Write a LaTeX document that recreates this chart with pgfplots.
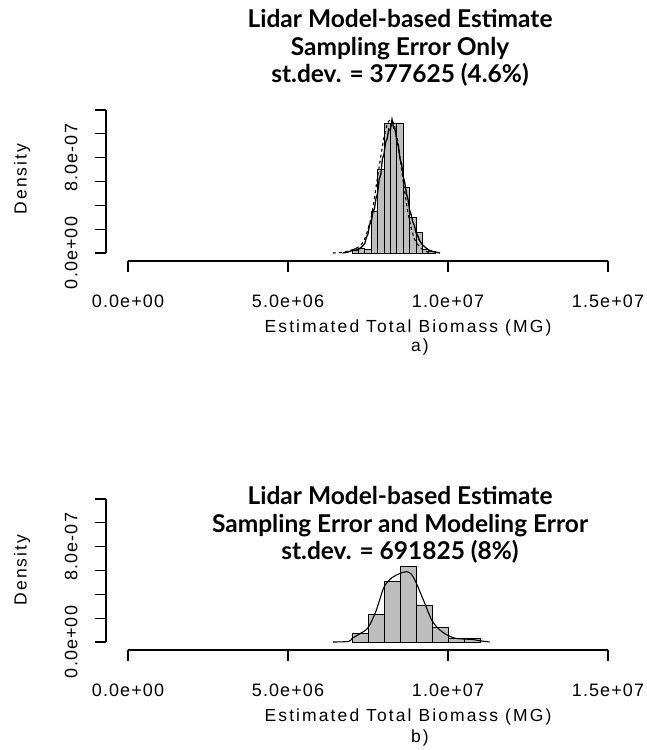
\documentclass[border=0pt]{standalone}
\usepackage{fontspec}
\setmainfont{Liberation Sans}
\newfontfamily\titlefont{Lato}
\newfontfamily\labfont[LetterSpace=12]{Liberation Sans}
\newfontfamily\tickfont[LetterSpace=6]{Liberation Sans}
\usepackage{pgfplots}
\pgfplotsset{compat=1.18}
\definecolor{bargray}{RGB}{190,190,190}
\pgfplotsset{rstyle/.style={
  scale only axis, width=480pt, height=143pt,
  xmin=0, xmax=15, ymin=0, ymax=12,
  axis x line=bottom, axis y line=left,
  axis x line shift=8pt, axis y line shift=22pt,
  axis line style={-, line width=1.1pt},
  tick align=outside, major tick length=11pt,
  tick style={line width=1.1pt, black},
  xtick={0,5,10,15}, xticklabels={0.0e+00,5.0e+06,1.0e+07,1.5e+07},
  ytick={0,2,4,6,8,10,12}, yticklabels={0.0e+00,,,,8.0e-07,,},
  yticklabel style={rotate=90, anchor=south},
  xticklabel shift=19pt, yticklabel shift=14pt,
  ticklabel style={font=\tickfont\fontsize{18}{20}\selectfont},
  clip=false}}
\begin{document}
\begin{tikzpicture}
\path[use as bounding box] (0,0) rectangle (647pt,750pt);
% Panel a
\begin{axis}[rstyle, at={(128pt,497pt)}, anchor=south west]
\addplot[ybar interval, fill=bargray, draw=black, line width=0.9pt] coordinates {
(7.0,0.2) (7.2,0.4) (7.4,0.3) (7.6,3.5) (7.8,7.0) (8.0,10.9) (8.2,10.9) (8.4,10.9) (8.6,5.5) (8.8,3.0) (9.0,1.7) (9.2,0.3) (9.4,0.1) (9.6,0)};
\addplot[black, line width=1.3pt] coordinates {
(6.7,0) (6.85,0.05) (7.0,0.2) (7.1,0.35) (7.2,0.3) (7.3,0.5) (7.4,0.8) (7.45,1.3) (7.5,1.6) (7.55,2.4) (7.6,2.6) (7.65,3.4) (7.7,3.7) (7.75,4.6) (7.8,5.0) (7.85,6.2) (7.9,6.6) (7.95,7.9) (8.0,8.3) (8.05,9.3) (8.1,9.6) (8.15,10.4) (8.2,10.3) (8.25,11.2) (8.3,10.5) (8.35,10.3) (8.4,9.4) (8.45,9.0) (8.5,7.9) (8.55,7.5) (8.6,6.4) (8.65,5.9) (8.7,5.0) (8.75,4.5) (8.8,3.6) (8.85,3.2) (8.9,2.6) (8.95,2.3) (9.0,1.7) (9.05,1.5) (9.1,1.1) (9.2,0.7) (9.3,0.45) (9.4,0.25) (9.55,0.1) (9.75,0)};
\addplot[black, line width=1.1pt, dashed, smooth] coordinates {
(6.4,0.0) (6.8,0.1) (7.2,0.5) (7.4,1.2) (7.6,3.0) (7.7,4.6) (7.8,6.4) (7.9,8.1) (8.0,9.7) (8.1,10.8) (8.2,11.2) (8.3,10.9) (8.4,9.8) (8.5,8.0) (8.6,6.0) (8.7,4.2) (8.8,2.7) (8.9,1.6) (9.0,0.9) (9.2,0.3) (9.4,0.05)};
\end{axis}
% Panel b
\begin{axis}[rstyle, at={(128pt,108pt)}, anchor=south west]
\addplot[ybar interval, fill=bargray, draw=black, line width=0.9pt] coordinates {
(7.0,0.75) (7.5,2.32) (8.0,5.04) (8.5,6.3) (9.0,3.08) (9.5,1.2) (10.0,0.28) (10.5,0.32) (11.0,0)};
\addplot[black, line width=1.1pt, smooth] coordinates {
(6.4,0) (6.9,0.05) (7.0,0.3) (7.25,0.7) (7.5,1.2) (7.75,2.6) (8.0,4.6) (8.25,5.4) (8.5,5.75) (8.7,5.9) (8.85,5.7) (9.0,5.0) (9.25,3.4) (9.5,1.8) (9.75,1.0) (10.0,0.55) (10.25,0.3) (10.5,0.25) (10.8,0.2) (11.0,0.1) (11.3,0.0)};
\end{axis}
% Titles and labels
\node[font=\titlefont\bfseries\fontsize{24.5}{27.5}\selectfont, align=center] at (400pt,702pt) {Lidar Model-based Estimate\\Sampling Error Only\\st.dev. = 377625 (4.6\%)};
\node[font=\titlefont\bfseries\fontsize{24.5}{27.5}\selectfont, align=center] at (400pt,225pt) {Lidar Model-based Estimate\\Sampling Error and Modeling Error\\st.dev. = 691825 (8\%)};
\node[font=\labfont\fontsize{17.5}{20}\selectfont] at (408pt,422pt) {Estimated Total Biomass (MG)};
\node[font=\labfont\fontsize{17.5}{20}\selectfont] at (420pt,403pt) {a)};
\node[font=\labfont\fontsize{17.5}{20}\selectfont] at (408pt,33pt) {Estimated Total Biomass (MG)};
\node[font=\labfont\fontsize{17.5}{20}\selectfont] at (420pt,12pt) {b)};
\node[font=\labfont\fontsize{17.5}{20}\selectfont, rotate=90] at (22pt,571pt) {Density};
\node[font=\labfont\fontsize{17.5}{20}\selectfont, rotate=90] at (22pt,180pt) {Density};
\end{tikzpicture}
\end{document}
